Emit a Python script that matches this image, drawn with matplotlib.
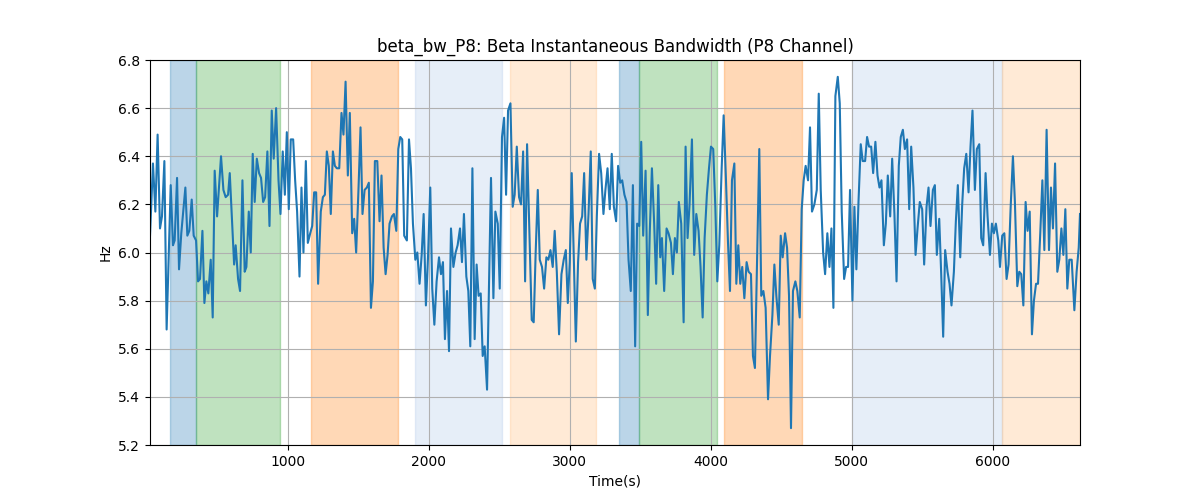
import matplotlib
matplotlib.use("Agg")
import matplotlib.pyplot as plt

times = [
    20, 41, 58, 74, 91, 105, 122, 138, 167, 183, 195, 212, 226, 242, 271, 285, 299, 316, 330, 347,
    361, 375, 392, 406, 420, 434, 451, 465, 479, 496, 524, 541, 557, 574, 586, 617,
    628, 645, 659, 676, 692, 704, 721, 735, 749, 763, 778, 794, 808, 823, 837, 853, 868, 884, 898, 915,
    932, 946, 962, 977, 991, 1005, 1019, 1036, 1050, 1064, 1081, 1095, 1109, 1126, 1140, 1157, 1171, 1185, 1199, 1213,
    1232, 1247, 1261, 1275, 1289, 1303, 1318, 1332, 1346, 1363, 1379, 1393, 1408, 1424, 1438, 1455, 1469, 1483, 1500, 1514,
    1528, 1543, 1559, 1573, 1588, 1602, 1616, 1633, 1649, 1663, 1678, 1692, 1706, 1720, 1737, 1751, 1768, 1782, 1796, 1810, 1824,
    1843, 1858, 1872, 1886, 1903, 1917, 1933, 1948, 1962, 1978, 1993, 2009, 2023, 2038, 2054, 2071, 2085, 2099, 2113, 2128,
    2142, 2156, 2173, 2189, 2203, 2220, 2234, 2248, 2265, 2279, 2293, 2308, 2324, 2338, 2352, 2367, 2381, 2395, 2412,
    2440, 2457, 2471, 2488, 2502, 2518, 2533, 2547, 2561, 2578, 2594, 2608, 2623, 2639, 2653, 2668, 2682, 2696, 2712, 2729,
    2743, 2757, 2772, 2786, 2802, 2817, 2833, 2847, 2862, 2878, 2892, 2907, 2923, 2940, 2956, 2971, 2985, 2999, 3013,
    3042, 3058, 3072, 3087, 3101, 3117, 3132, 3148, 3162, 3177, 3191, 3207, 3222, 3238, 3252, 3267, 3283, 3297, 3312, 3328,
    3342, 3357, 3371, 3387, 3402, 3416, 3432, 3447, 3463, 3477, 3492, 3506, 3520, 3537, 3553, 3567, 3582, 3598, 3612, 3627, 3641,
    3653, 3669, 3686, 3700, 3717, 3731, 3745, 3759, 3773, 3790, 3807, 3821, 3835, 3849, 3866, 3882, 3897, 3913, 3927, 3942,
    3956, 3972, 3987, 4001, 4017, 4032, 4046, 4060, 4077, 4091, 4107, 4122, 4136, 4150, 4167, 4181, 4195, 4209, 4223, 4238,
    4254, 4268, 4285, 4299, 4313, 4344, 4358, 4373, 4389, 4406, 4420, 4437, 4451, 4465, 4482, 4496, 4510, 4527, 4541, 4555,
    4569, 4583, 4600, 4614, 4631, 4645, 4659, 4673, 4690, 4704, 4718, 4735, 4752, 4766, 4780, 4797, 4811, 4827, 4842,
    4856, 4870, 4884, 4901, 4915, 4929, 4946, 4960, 4974, 4988, 5005, 5019, 5033, 5048, 5064, 5078, 5095, 5109, 5123, 5138,
    5152, 5168, 5183, 5197, 5211, 5228, 5242, 5256, 5273, 5287, 5303, 5318, 5334, 5348, 5363, 5377, 5393, 5408, 5422, 5438, 5453,
    5467, 5483, 5500, 5514, 5531, 5545, 5559, 5576, 5590, 5604, 5621, 5635, 5649, 5663, 5680, 5694, 5708, 5725, 5739, 5753,
    5770, 5784, 5798, 5813, 5829, 5843, 5857, 5874, 5888, 5905, 5919, 5933, 5950, 5964, 5981, 5995, 6009, 6023, 6040, 6052,
    6068, 6083, 6099, 6113, 6128, 6144, 6158, 6175, 6189, 6203, 6218, 6234, 6248, 6263, 6279, 6293, 6308, 6322, 6338, 6353,
    6367, 6383, 6400, 6414, 6428, 6443, 6459, 6473, 6488, 6502, 6516, 6530, 6544, 6561, 6580, 6596, 6611, 6620,
]

bandwidth = [
    6.07, 6.37, 6.17, 6.49, 6.10, 6.15, 6.38, 5.68, 6.28, 6.03, 6.05, 6.31, 5.93, 6.08, 6.27, 6.07, 6.09, 6.22, 6.07, 6.05,
    5.88, 5.89, 6.09, 5.79, 5.88, 5.83, 5.97, 5.73, 6.34, 6.15, 6.40, 6.26, 6.23, 6.24, 6.33, 5.95,
    6.03, 5.89, 5.84, 6.30, 5.92, 5.94, 6.17, 6.00, 6.41, 6.21, 6.39, 6.33, 6.31, 6.21, 6.23, 6.42, 6.11, 6.59, 6.39, 6.60,
    6.30, 6.16, 6.42, 6.24, 6.50, 6.18, 6.47, 6.47, 6.30, 6.17, 5.90, 6.27, 6.00, 6.38, 6.04, 6.08, 6.11, 6.25, 6.25, 5.87,
    6.17, 6.23, 6.24, 6.42, 6.36, 6.16, 6.42, 6.36, 6.35, 6.35, 6.58, 6.49, 6.71, 6.32, 6.58, 6.08, 6.14, 6.00, 6.27, 6.52,
    6.16, 6.26, 6.27, 6.29, 5.77, 5.88, 6.38, 6.38, 6.13, 6.32, 6.02, 5.91, 5.99, 6.12, 6.15, 6.16, 6.09, 6.43, 6.48, 6.47, 6.07,
    6.05, 6.47, 6.35, 6.12, 5.97, 6.00, 5.87, 5.99, 6.16, 5.78, 5.98, 6.27, 5.85, 5.70, 5.88, 5.98, 5.91, 5.96, 5.64, 5.84,
    5.59, 6.10, 5.94, 6.00, 6.03, 6.10, 5.96, 6.16, 5.90, 5.84, 5.61, 6.35, 5.64, 5.95, 5.82, 5.83, 5.57, 5.61, 5.43,
    6.31, 5.81, 6.17, 6.12, 5.85, 6.48, 6.56, 6.24, 6.59, 6.62, 6.19, 6.24, 6.44, 6.23, 6.20, 6.42, 5.88, 6.45, 6.10, 5.72,
    5.71, 6.00, 6.26, 5.97, 5.94, 5.85, 5.98, 5.97, 6.01, 5.94, 6.09, 5.92, 5.66, 5.91, 5.97, 6.01, 5.79, 5.96, 6.33,
    5.63, 5.96, 6.12, 6.15, 6.33, 5.97, 6.16, 6.42, 5.89, 5.85, 6.15, 6.41, 6.33, 6.16, 6.26, 6.35, 6.18, 6.41, 6.19, 6.13,
    6.36, 6.29, 6.30, 6.24, 6.21, 5.97, 5.84, 6.28, 5.61, 6.12, 6.11, 6.46, 6.07, 6.34, 5.74, 6.09, 6.35, 6.12, 5.87, 6.28, 5.98,
    6.06, 5.84, 6.10, 6.08, 6.04, 5.91, 6.06, 6.00, 6.21, 6.12, 5.71, 6.44, 6.06, 6.20, 6.47, 5.99, 6.16, 6.09, 5.94, 5.73,
    6.06, 6.24, 6.35, 6.44, 6.43, 6.19, 5.88, 6.03, 6.35, 6.57, 6.31, 6.04, 5.84, 6.30, 6.37, 5.87, 6.03, 5.87, 5.94, 5.81,
    5.96, 5.92, 5.91, 5.57, 5.52, 6.43, 5.82, 5.84, 5.77, 5.39, 5.57, 5.74, 5.95, 5.82, 5.70, 6.07, 5.98, 6.08, 6.02, 5.82,
    5.27, 5.84, 5.88, 5.84, 5.73, 6.18, 6.30, 6.36, 6.30, 6.52, 6.17, 6.20, 6.26, 6.66, 6.26, 6.00, 5.91, 6.08, 5.94,
    6.10, 5.77, 6.65, 6.73, 6.62, 6.17, 5.89, 5.94, 5.94, 6.26, 5.80, 6.19, 5.93, 6.21, 6.45, 6.38, 6.38, 6.48, 6.44, 6.44,
    6.33, 6.46, 6.32, 6.27, 6.30, 6.03, 6.12, 6.32, 6.15, 6.39, 6.16, 5.88, 6.36, 6.48, 6.51, 6.43, 6.47, 6.18, 6.44, 6.27, 5.99,
    6.10, 6.21, 6.18, 5.95, 6.19, 6.27, 6.11, 6.26, 6.28, 5.99, 6.14, 5.91, 5.65, 6.01, 5.92, 5.87, 5.78, 5.92, 6.13, 6.28,
    5.98, 6.20, 6.35, 6.41, 6.25, 6.44, 6.59, 6.26, 6.43, 6.45, 6.06, 6.03, 6.33, 6.15, 5.99, 6.12, 6.08, 6.12, 6.05, 5.94,
    6.07, 6.08, 5.89, 5.95, 6.19, 6.40, 6.21, 5.86, 5.92, 5.91, 5.78, 6.21, 6.09, 6.17, 5.66, 5.80, 5.87, 5.87, 6.08, 6.30,
    6.01, 6.51, 6.01, 6.27, 6.10, 6.37, 5.92, 5.97, 6.10, 5.99, 6.18, 5.85, 5.97, 5.97, 5.76, 5.92, 6.02, 6.16,
]

span_starts = [160, 343, 1161, 1900, 2575, 3345, 3487, 4096, 5005, 6068]
span_ends = [343, 946, 1782, 2516, 3184, 3487, 4044, 4648, 6064, 6620]
span_colors = ["tab:blue", "tab:green", "tab:orange", "#aec7e8", "#ffbb78",
               "tab:blue", "tab:green", "tab:orange", "#aec7e8", "#ffbb78"]
span_alphas = [0.3, 0.3, 0.3, 0.3, 0.3, 0.3, 0.3, 0.3, 0.3, 0.3]

fig, ax = plt.subplots(figsize=(12, 5), dpi=100)
for s, e, c, a in zip(span_starts, span_ends, span_colors, span_alphas):
    ax.axvspan(s, e, color=c, alpha=a)
ax.plot(times, bandwidth, color="tab:blue", linewidth=1.5)
ax.set_xlim(times[0], times[-1])
ax.set_ylim(5.2, 6.8)
ax.set_yticks([5.2, 5.4, 5.6, 5.8, 6.0, 6.2, 6.4, 6.6, 6.8])
ax.grid(True)
ax.set_title("beta_bw_P8: Beta Instantaneous Bandwidth (P8 Channel)")
ax.set_xlabel("Time(s)")
ax.set_ylabel("Hz")
fig.savefig("out.png", dpi=100)
